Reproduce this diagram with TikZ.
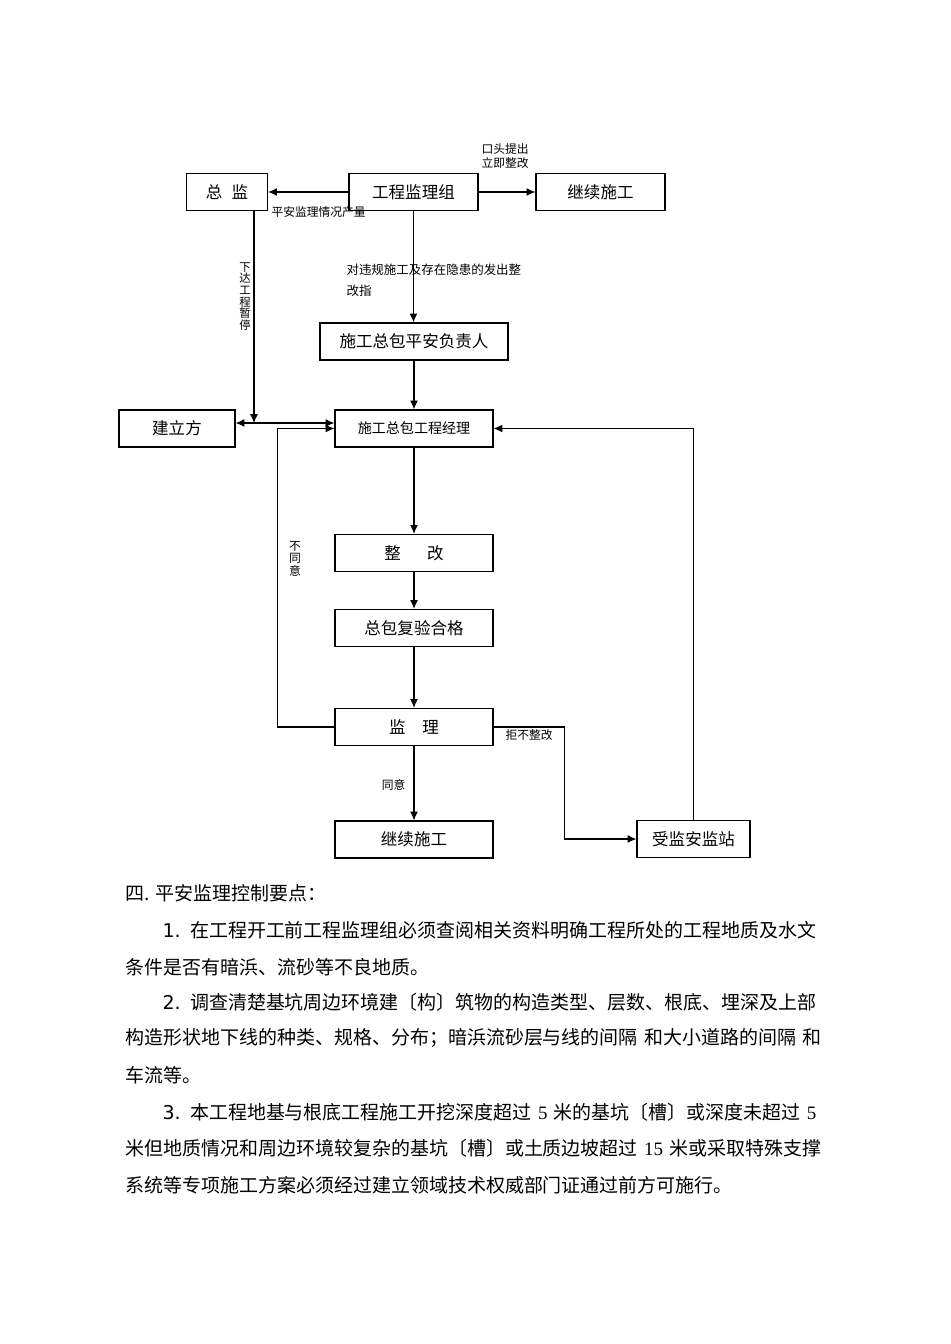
\documentclass[tikz,border=0pt]{standalone}
\usepackage{fontspec}
\setmainfont{Liberation Serif}
\newfontfamily\cjk{Noto Sans CJK SC}
\newfontfamily\dvs{DejaVu Sans}
\usetikzlibrary{arrows.meta}
\XeTeXlinebreaklocale "zh"
\XeTeXlinebreakskip=0pt plus 2pt
\newcommand\fulljust{\parfillskip=0pt\relax}

\tikzset{
  box/.style={draw, line width=0.7pt, inner sep=0pt, minimum height=0.74cm,
    font=\cjk\fontsize{9.4}{11}\selectfont},
  lbl/.style={inner sep=0pt, font=\cjk\fontsize{6.7}{7.5}\selectfont},
  txt/.style={inner sep=0pt, anchor=west, font=\cjk\fontsize{10.8}{13}\selectfont},
}

\begin{document}
\begin{tikzpicture}[x=0.02cm, y=-0.02cm, line width=0.6pt, >={Latex[length=5pt,width=4.5pt]}]
\useasboundingbox (0,0) rectangle (950,1344);

% boxes
\node[box, minimum width=1.62cm] (zj) at (227,192) {总\hspace{0.55em}监};
\node[box, minimum width=2.58cm] (jlz) at (413.5,192) {工程监理组};
\node[box, minimum width=2.58cm] (jx1) at (600.5,192) {继续施工};
\node[box, minimum width=3.76cm] (fzr) at (414,341.5) {施工总包平安负责人};
\node[box, minimum width=2.32cm] (jsf) at (177,428.5) {建立方};
\node[box, minimum width=3.16cm, font=\cjk\fontsize{8}{10}\selectfont] (jl) at (414,428.5) {施工总包工程经理};
\node[box, minimum width=3.16cm] (zg) at (414,553) {整\hspace{1.6em}改};
\node[box, minimum width=3.16cm] (fy) at (414,628) {总包复验合格};
\node[box, minimum width=3.16cm] (jianli) at (414,727) {监\hspace{1em}理};
\node[box, minimum width=3.16cm] (jx2) at (414,839.5) {继续施工};
\node[box, minimum width=2.26cm] (ajz) at (693.5,839) {受监安监站};

\coordinate (fork) at (254,423);

% connectors
\draw[->] (jlz) -- (zj);
\draw[->] (jlz) -- (jx1);
\draw[->] (jlz.south) -- (jlz.south |- fzr.north);
\draw[->] (zj.south -| fork) -- (fork);
\draw[<->] (jsf.east |- fork) -- (jl.west |- fork);
\draw[->] (jianli.west) -- ++(-57,0) |- (jl.west);
\draw[->] (fzr) -- (jl);
\draw[->] (jl) -- (zg);
\draw[->] (zg) -- (fy);
\draw[->] (fy) -- (jianli);
\draw[->] (jianli) -- (jx2);
\draw[->] (jianli.east) -- ++(71,0) |- (ajz.west);
\draw[->] (ajz.north) |- (jl.east);

% labels
\node[lbl, anchor=west] (l1) at (271,212) {平安监理情况产量};
\node[lbl, anchor=west, align=left] (l2) at (481,156) {口头提出\\立即整改};
\node[lbl, anchor=north west, align=left, font=\cjk\fontsize{7.1}{12}\selectfont] (l3) at (346,263) {对违规施工及存在隐患的发出整\\改指};
\node[lbl, anchor=north, align=center, font=\cjk\fontsize{6.5}{6.6}\selectfont] (l4) at (245,262) {下\\达\\工\\程\\暂\\停};
\node[lbl, anchor=north, align=center, font=\cjk\fontsize{6.7}{7}\selectfont] (l5) at (295,541) {不\\同\\意};
\node[lbl, anchor=west] (l6) at (505,735) {拒不整改};
\node[lbl, anchor=east] (l7) at (406,785) {同意};

% text below
\node[txt] (t0) at (125,893) {四. 平安监理控制要点：};
\node[txt, text width=13.26cm] (t1) at (162,930) {\fulljust{\dvs 1.} 在工程开工前工程监理组必须查阅相关资料明确工程所处的工程地质及水文};
\node[txt] (t2) at (125,967) {条件是否有暗浜、流砂等不良地质。};
\node[txt, text width=13.3cm] (t3) at (162,1002) {\fulljust{\dvs 2.} 调查清楚基坑周边环境建〔构〕筑物的构造类型、层数、根底、埋深及上部};
\node[txt, text width=14.04cm] (t4) at (125,1038) {\fulljust 构造形状地下线的种类、规格、分布；暗浜流砂层与线的间隔 和大小道路的间隔 和};
\node[txt] (t5) at (125,1075) {车流等。};
\node[txt, text width=13.3cm] (t6) at (162,1112) {\fulljust{\dvs 3.} 本工程地基与根底工程施工开挖深度超过{\rmfamily\ 5\ }米的基坑〔槽〕或深度未超过{\rmfamily\ 5}};
\node[txt, text width=14.0cm] (t7) at (125,1148) {\fulljust 米但地质情况和周边环境较复杂的基坑〔槽〕或土质边坡超过{\rmfamily\ 15\ }米或采取特殊支撑};
\node[txt] (t8) at (125,1185) {系统等专项施工方案必须经过建立领域技术权威部门证通过前方可施行。};

\end{tikzpicture}
\end{document}
